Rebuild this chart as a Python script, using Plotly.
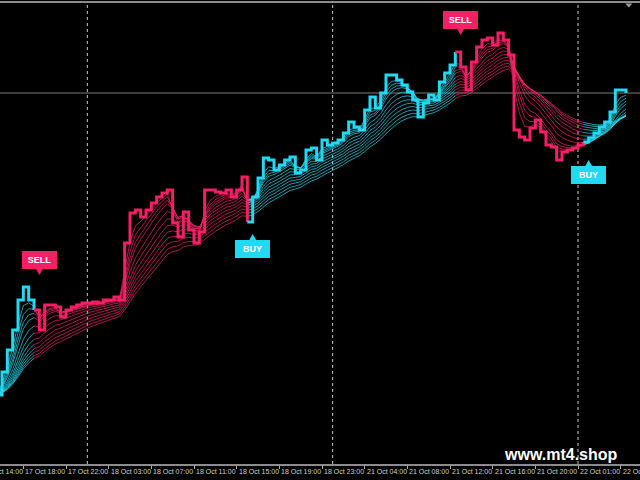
import plotly.graph_objects as go

# ---------------- data ----------------
# M30 closes, bar 0 = 17 Oct 15:30 (approx)
closes = [
    1.28069, 1.28092, 1.28114, 1.28134, 1.28164, 1.28177, 1.28164, 1.28154, 1.28134, 1.28159,
    1.28159, 1.28157, 1.28147, 1.28154, 1.28157, 1.28159, 1.28161, 1.28161, 1.28162, 1.28161,
    1.28164, 1.28164, 1.28167, 1.28164, 1.28221, 1.28251, 1.28254, 1.28247, 1.28254, 1.28261,
    1.28267, 1.28271, 1.28274, 1.28241, 1.28227, 1.28252, 1.28234, 1.28221, 1.28232, 1.28274,
    1.28274, 1.28272, 1.28271, 1.28274, 1.28267, 1.28274, 1.28287, 1.28242, 1.28267, 1.28286,
    1.28306, 1.28304, 1.28294, 1.28299, 1.28304, 1.28307, 1.28291, 1.28294, 1.28314, 1.28316,
    1.28304, 1.28324, 1.28319, 1.28321, 1.28324, 1.28331, 1.28342, 1.28337, 1.28334, 1.28354,
    1.28367, 1.28356, 1.28371, 1.28389, 1.28389, 1.28384, 1.28379, 1.28372, 1.28364, 1.28347,
    1.28361, 1.28369, 1.28364, 1.28382, 1.28391, 1.28399, 1.28412, 1.28397, 1.28374, 1.28402,
    1.28417, 1.28424, 1.28426, 1.28419, 1.28431, 1.28424, 1.28409, 1.28334, 1.28327, 1.28324,
    1.28336, 1.28344, 1.28332, 1.28319, 1.28317, 1.28304, 1.28312, 1.28314, 1.28316, 1.28319,
    1.28322, 1.28326, 1.28331, 1.28337, 1.28342, 1.28352, 1.28374, 1.28374, 1.28371,
]
# signals: (bar index, kind)
signals = [(8, "SELL"), (48, "BUY"), (87, "SELL"), (111, "BUY")]
start_trend = "BUY"
# ribbon EMA periods
ribbon_periods = [3, 4, 5, 6, 8, 10, 12, 14, 16, 18, 20, 22]
# day separators (bar index)
separators = [17, 63, 109]
# time axis labels
tick_bars = [5 + 8 * i for i in range(15)]
tick_labels = ["17 Oct 18:00", "17 Oct 22:00", "18 Oct 03:00", "18 Oct 07:00", "18 Oct 11:00",
               "18 Oct 15:00", "18 Oct 19:00", "18 Oct 23:00", "21 Oct 04:00", "21 Oct 08:00",
               "21 Oct 12:00", "21 Oct 16:00", "21 Oct 20:00", "22 Oct 01:00", "22 Oct 05:00"]
first_label = (-3, "17 Oct 14:00")

# ---------------- layout constants ----------------
W, H = 640, 480
MT, MB = 3, 16
XR = [0.625, 120.625]
YR = [1.28000, 1.28461]
px_x = (XR[1] - XR[0]) / W            # bars per pixel
px_y = (YR[1] - YR[0]) / (H - MT - MB)  # price per pixel

CYAN = "#22d8f2"
PINK = "#f51f66"
CYAN_R = "rgba(40,215,235,0.9)"
PINK_R = "rgba(238,35,100,0.9)"
FONT_N = "Liberation Sans Narrow, Arial Narrow, Liberation Sans, Arial"

n = len(closes)
xs = list(range(n))


def ema(vals, p):
    a = 2.0 / (p + 1)
    out = [vals[0]]
    for v in vals[1:]:
        out.append(out[-1] + a * (v - out[-1]))
    return out


# segments by trend
segs = []
st = 0
trend = start_trend
for s, kind in signals:
    segs.append((st, s - 1, trend))
    st = s - 1
    trend = kind
segs.append((st, n - 1, trend))

fig = go.Figure()

# ribbon
for p in ribbon_periods:
    e = ema(closes, p)
    for a, b, t in segs:
        fig.add_trace(go.Scatter(
            x=xs[a:b + 1], y=e[a:b + 1], mode="lines",
            line=dict(color=CYAN_R if t == "BUY" else PINK_R, width=0.8),
            hoverinfo="skip", showlegend=False))

# step price line
for a, b, t in segs:
    fig.add_trace(go.Scatter(
        x=xs[a:b + 1], y=closes[a:b + 1], mode="lines",
        line=dict(color=CYAN if t == "BUY" else PINK, width=3, shape="hv"),
        hoverinfo="skip", showlegend=False))

annotations = []
# signal labels
for s, kind in signals:
    win = closes[max(0, s - 3):s + 4]
    col = PINK if kind == "SELL" else CYAN
    if kind == "SELL":
        tip = max(win) + 12 * px_y
        base = tip + 7 * px_y
        yanchor, ysh = "bottom", -1
    else:
        tip = min(win) - 12 * px_y
        base = tip - 7 * px_y
        yanchor, ysh = "top", 1
    half = 4 * px_x
    fig.add_trace(go.Scatter(
        x=[s - half, s + half, s, s - half],
        y=[base, base, tip, base], mode="lines", fill="toself", fillcolor=col,
        line=dict(color=col, width=0), hoverinfo="skip", showlegend=False))
    annotations.append(dict(
        x=s, y=base, xref="x", yref="y", text="<b>%s</b>" % kind, showarrow=False,
        xanchor="center", yanchor=yanchor, yshift=ysh,
        bgcolor=col, width=33, height=16, borderpad=1, borderwidth=0,
        font=dict(family=FONT_N, size=9, color="white")))

# time labels
for b, lab in zip(tick_bars, tick_labels):
    annotations.append(dict(
        x=b, y=0, xref="x", yref="paper", text=lab, showarrow=False,
        xanchor="left", yanchor="top", xshift=0, yshift=-2,
        font=dict(family=FONT_N, size=7, color="#d0d0d0")))
fb, flab = first_label
annotations.append(dict(
    x=(fb - XR[0]) / (XR[1] - XR[0]), y=0, xref="paper", yref="paper", text=flab,
    showarrow=False, xanchor="left", yanchor="top", yshift=-2,
    font=dict(family=FONT_N, size=7, color="#d0d0d0")))

# watermark
annotations.append(dict(
    x=0.968, y=0.0, xref="paper", yref="paper", text="<b>www.mt4.shop</b>", showarrow=False,
    xanchor="right", yanchor="bottom", yshift=-1,
    font=dict(family="Liberation Sans, Arial", size=16, color="white")))

shapes = []
for sb in separators:
    shapes.append(dict(type="line", xref="x", yref="paper", x0=sb, x1=sb, y0=0, y1=1,
                       line=dict(color="#c8c8c8", width=1, dash="dot"), layer="below"))
# bid line
shapes.append(dict(type="line", xref="paper", yref="y", x0=0, x1=1, y0=closes[-1], y1=closes[-1],
                   line=dict(color="#7a7a7a", width=1), layer="below"))
# chart shift marker
shapes.append(dict(type="path", xref="paper", yref="paper",
                   path="M 0.977 0.999 L 0.988 0.999 L 0.9825 0.990 Z",
                   fillcolor="#9a9a9a", line=dict(width=0)))

fig.update_layout(
    width=W, height=H,
    margin=dict(l=0, r=0, t=MT, b=MB, pad=0, autoexpand=False),
    paper_bgcolor="black", plot_bgcolor="black",
    showlegend=False,
    xaxis=dict(range=XR, showgrid=False, zeroline=False, showticklabels=False,
               tickvals=tick_bars, ticks="outside", ticklen=3, tickcolor="#aaaaaa",
               showline=True, linecolor="#8c8c8c", linewidth=2, mirror=True, fixedrange=True),
    yaxis=dict(range=YR, showgrid=False, zeroline=False, showticklabels=False,
               showline=False, fixedrange=True),
    annotations=annotations, shapes=shapes,
)

fig.write_html(
    "out.html",
    config={"displayModeBar": False},
    post_script="document.body.style.margin='0';document.body.style.overflow='hidden';"
                "document.body.style.background='black';",
)
